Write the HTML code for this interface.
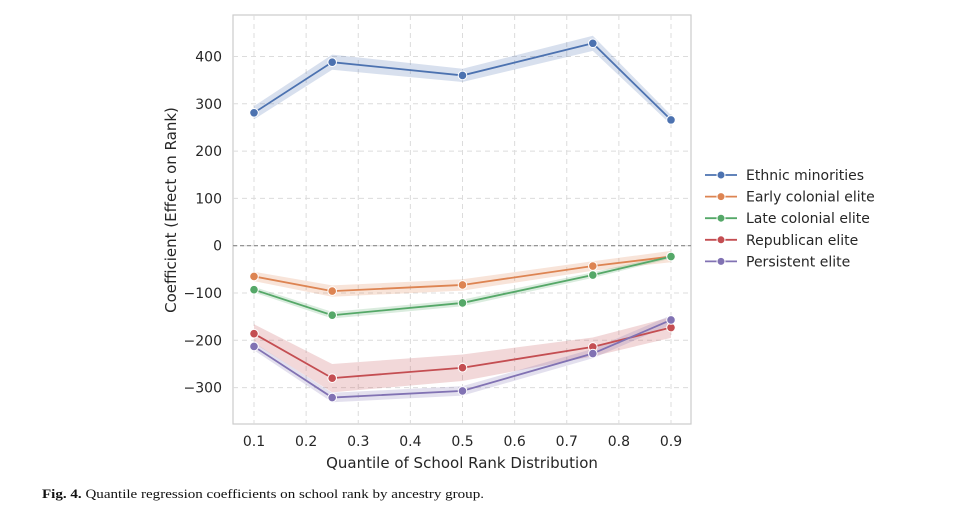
<!DOCTYPE html>
<html><head><meta charset="utf-8">
<style>
html,body{margin:0;padding:0;background:#fff;width:980px;height:508px;overflow:hidden}
svg{display:block}
text{font-family:"DejaVu Sans","Liberation Sans",sans-serif;fill:#262626}
</style></head>
<body>
<svg id="chart" width="980" height="508" viewBox="0 0 980 508">
<rect x="233" y="15" width="458" height="409" fill="#fff" stroke="#cccccc" stroke-width="1.2"/>
<g id="grid"></g>
<g id="bands"></g>
<g id="lines"></g>
<g id="axes"></g>
<text x="186" y="220" font-size="15" text-anchor="middle" transform="rotate(-90 176 220)">Coefficient (Effect on Rank)</text>
<text x="462" y="468" font-size="15" text-anchor="middle">Quantile of School Rank Distribution</text>
<g id="legend"></g>
<text x="42" y="498" font-size="13" textLength="442" lengthAdjust="spacingAndGlyphs" style="font-family:'Liberation Serif',serif;fill:#111"><tspan font-weight="bold">Fig. 4.</tspan> Quantile regression coefficients on school rank by ancestry group.</text>
</svg>
<script>
const quantiles=[0.1,0.25,0.5,0.75,0.9];
const seriesNames=["Ethnic minorities","Early colonial elite","Late colonial elite","Republican elite","Persistent elite"];
const seriesColors=["#4c72b0","#dd8452","#55a868","#c44e52","#8172b3"];
const ethnic=[281,388,360,428,266];
const earlyColonial=[-65,-96,-83,-43,-23];
const lateColonial=[-93,-147,-121,-62,-23];
const republican=[-186,-280,-258,-214,-173];
const persistent=[-213,-321,-307,-228,-157];
const ciHalf=[[14,16,14,16,10],[10,12,12,10,12],[6,7,7,6,4],[20,30,28,20,22],[8,10,10,10,10]];
const xTicks=[0.1,0.2,0.3,0.4,0.5,0.6,0.7,0.8,0.9];
const yTicks=[400,300,200,100,0,-100,-200,-300];
const allSeries=[ethnic,earlyColonial,lateColonial,republican,persistent];

const NS="http://www.w3.org/2000/svg";
const xs=v=>254+(v-0.1)*(671-254)/0.8;
const ys=v=>245.7-v*0.473;
function mk(tag,attrs,parent){const e=document.createElementNS(NS,tag);for(const k in attrs)e.setAttribute(k,attrs[k]);parent.appendChild(e);return e;}
const grid=document.getElementById('grid'),axes=document.getElementById('axes');
xTicks.forEach(t=>{
  const l=mk('line',{x1:xs(t),x2:xs(t),y1:15,y2:424,stroke:'#dcdcdc','stroke-dasharray':'5,4','stroke-width':1},grid);
  
  
  const tx=mk('text',{x:xs(t),y:446,'font-size':14,'text-anchor':'middle'},axes);
  tx.textContent=t.toFixed(1);
  
  
});
yTicks.forEach(t=>{
  const l=mk('line',{x1:233,x2:691,y1:ys(t),y2:ys(t),stroke:'#dcdcdc','stroke-dasharray':'5,4','stroke-width':1},grid);
  
  
  const tx=mk('text',{x:222,y:ys(t)+5,'font-size':14,'text-anchor':'end'},axes);
  tx.textContent=(t<0?'\u2212'+(-t):String(t));
  
  
});
const zl=mk('line',{x1:233,x2:691,y1:ys(0),y2:ys(0),stroke:'#888','stroke-dasharray':'4,3','stroke-width':1.2},grid);



const bands=document.getElementById('bands'),lines=document.getElementById('lines');
allSeries.forEach((vals,i)=>{
  const c=seriesColors[i];
  const up=vals.map((v,j)=>xs(quantiles[j])+','+ys(v+ciHalf[i][j]));
  const dn=vals.map((v,j)=>xs(quantiles[j])+','+ys(v-ciHalf[i][j])).reverse();
  const b=mk('polygon',{points:up.concat(dn).join(' '),fill:c,'fill-opacity':0.22},bands);
  
  
  const p=mk('polyline',{points:vals.map((v,j)=>xs(quantiles[j])+','+ys(v)).join(' '),fill:'none',stroke:c,'stroke-width':1.8},lines);
  
  
  vals.forEach((v,j)=>{
    const m=mk('circle',{cx:xs(quantiles[j]),cy:ys(v),r:4.3,fill:c,stroke:'#fff','stroke-width':1},lines);
    
    
  });
});
const lg=document.getElementById('legend');
seriesNames.forEach((n,i)=>{
  const y=175+i*21.6;
  const l=mk('line',{x1:705,x2:737,y1:y,y2:y,stroke:seriesColors[i],'stroke-width':1.8},lg);
  
  
  const c=mk('circle',{cx:721,cy:y,r:4,fill:seriesColors[i],stroke:'#fff','stroke-width':1},lg);
  
  
  const t=mk('text',{x:746,y:y+5,'font-size':14},lg);
  t.textContent=n;
  
  
});
</script>
</body></html>
